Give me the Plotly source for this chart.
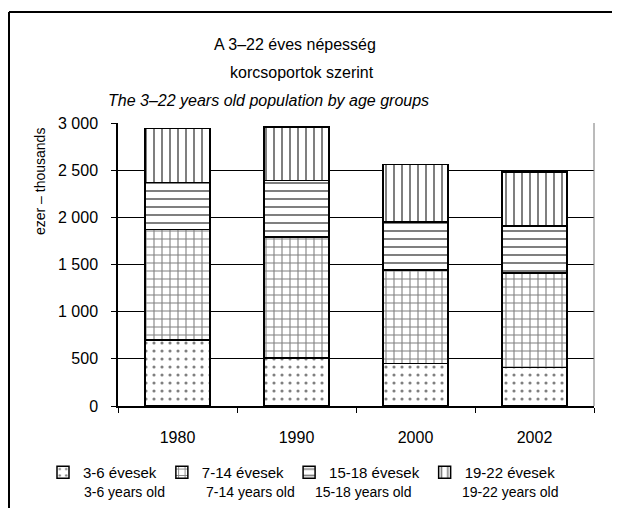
import plotly.graph_objects as go

years = ["1980", "1990", "2000", "2002"]
age_3_6 = [700, 510, 450, 410]
age_7_14 = [1170, 1280, 990, 1000]
age_15_18 = [500, 600, 510, 500]
age_19_22 = [570, 570, 610, 570]

hu_labels = ["3-6 évesek", "7-14 évesek", "15-18 évesek", "19-22 évesek"]
en_labels = ["3-6 years old", "7-14 years old", "15-18 years old", "19-22 years old"]
patterns = [".", "+", "-", "|"]

y_ticks = [0, 500, 1000, 1500, 2000, 2500, 3000]
y_ticktext = ["0", "500", "1 000", "1 500", "2 000", "2 500", "3 000"]

FONT = "Liberation Sans, Arial, sans-serif"

# a böngésző 8 px-es body margója miatt minden pixelt ennyivel toljuk
OFF = 8
W, H = 620 - OFF, 508 - OFF
PL, PR, PT, PB = 118 - OFF, 594 - OFF, 123 - OFF, 406 - OFF


def px(x):
    return (x - OFF - PL) / (PR - PL)


def py(y):
    return (PB - (y - OFF)) / (PB - PT)


fig = go.Figure()
for vals, name, pat in zip([age_3_6, age_7_14, age_15_18, age_19_22], hu_labels, patterns):
    fig.add_trace(go.Bar(
        x=years, y=vals, name=name,
        marker=dict(
            color="white",
            line=dict(color="black", width=1.5),
            pattern=dict(shape=pat, fgcolor="black", bgcolor="white",
                         size=8, solidity=0.25 if pat != "." else 0.12),
        ),
    ))

# angol nyelvű jelmagyarázat sor (a magyar alatt)
en_x = [82, 204, 313, 460]
for lab, x_ in zip(en_labels, en_x):
    fig.add_annotation(text=lab, xref="paper", yref="paper",
                       x=px(x_), y=py(492),
                       xanchor="left", yanchor="middle", showarrow=False,
                       font=dict(family=FONT, size=14, color="black"))

# cím három sorban
titles = [("A 3–22 éves népesség", 295, 44),
          ("korcsoportok szerint", 302, 72),
          ("<i>The 3–22 years old population by age groups</i>", 268, 100)]
for t, tx, ty in titles:
    fig.add_annotation(text=t, xref="paper", yref="paper",
                       x=px(tx), y=py(ty),
                       xanchor="center", yanchor="middle", showarrow=False,
                       font=dict(family=FONT, size=16, color="black"))

fig.add_annotation(text="ezer – thousands", xref="paper", yref="paper",
                   x=px(40), y=py(182), textangle=-90,
                   xanchor="center", yanchor="middle", showarrow=False,
                   font=dict(family=FONT, size=14, color="black"))

# keret bal és felső oldal, jobb oldali plot szél
fig.add_shape(type="line", xref="paper", yref="paper",
              x0=px(9), x1=px(9), y0=py(12), y1=py(520),
              line=dict(color="black", width=2))
fig.add_shape(type="line", xref="paper", yref="paper",
              x0=px(9), x1=px(620), y0=py(12), y1=py(12),
              line=dict(color="black", width=2))
fig.add_shape(type="line", xref="paper", yref="paper",
              x0=1, x1=1, y0=0, y1=1,
              line=dict(color="#777", width=1))

fig.update_xaxes(showline=True, linecolor="black", linewidth=1.5,
                 ticks="outside", tickson="boundaries", ticklen=5, tickcolor="black",
                 ticklabelstandoff=16, showgrid=False,
                 tickfont=dict(family=FONT, size=16, color="black"))
fig.update_yaxes(range=[0, 3000], tickvals=y_ticks, ticktext=y_ticktext,
                 showline=True, linecolor="black", linewidth=1.5,
                 ticks="outside", ticklen=5, tickcolor="black",
                 ticklabelstandoff=10,
                 showgrid=True, gridcolor="black", gridwidth=1, zeroline=False,
                 tickfont=dict(family=FONT, size=16, color="black"))

fig.update_layout(
    width=W, height=H,
    margin=dict(l=PL, r=W - PR, t=PT, b=H - PB, autoexpand=False),
    barmode="stack", bargap=0.45,
    plot_bgcolor="white", paper_bgcolor="white",
    legend=dict(orientation="h", x=px(43), y=py(456),
                xanchor="left", yanchor="top", traceorder="normal",
                font=dict(family=FONT, size=15, color="black"),
                itemwidth=30, bgcolor="rgba(0,0,0,0)"),
    showlegend=True,
)

fig.write_html("out.html", config={"displayModeBar": False},
               post_script="document.documentElement.style.overflow='hidden';"
                           "document.body.style.overflow='hidden';")
